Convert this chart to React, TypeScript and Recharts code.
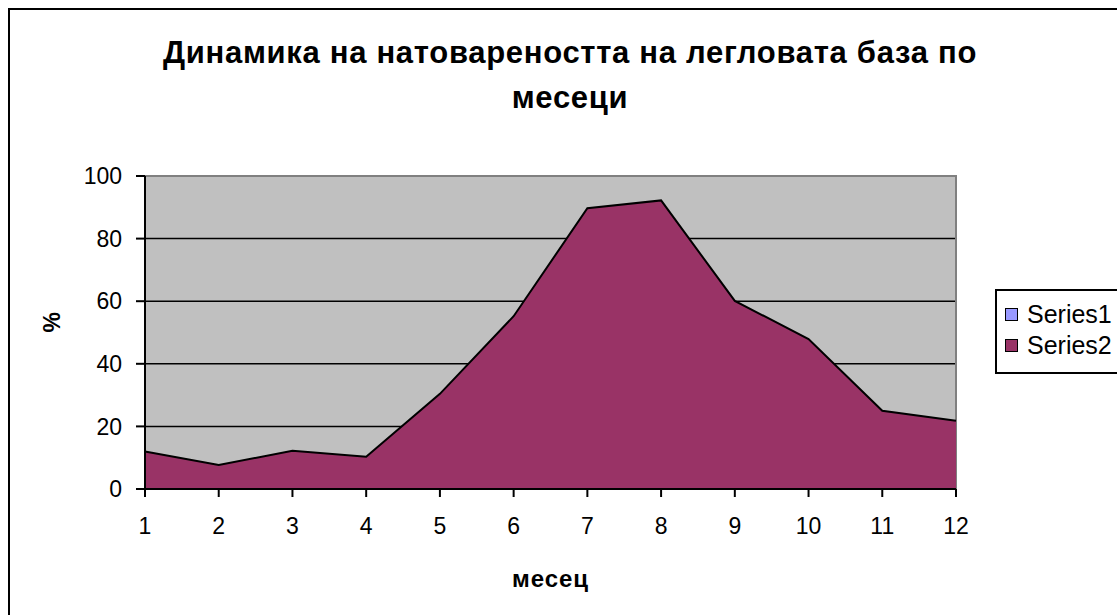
import { AreaChart, Area, XAxis, YAxis, CartesianGrid, Legend, ReferenceArea } from "recharts";

const FONT = "Arial, 'Liberation Sans', sans-serif";

// месеци
const months = [1, 2, 3, 4, 5, 6, 7, 8, 9, 10, 11, 12];
// Series1 (номер на месеца, скрит зад Series2)
const series1 = [1, 2, 3, 4, 5, 6, 7, 8, 9, 10, 11, 12];
// Series2 – натовареност, %
const series2 = [12, 7.7, 12.2, 10.3, 30.4, 55.2, 89.7, 92.2, 60.1, 47.9, 25, 21.8];
const yTicks = [0, 20, 40, 60, 80, 100];
const gridLines = [20, 40, 60, 80];

const SERIES = [
  { key: "Series1", color: "#9999FF" },
  { key: "Series2", color: "#993366" },
];

const data = months.map((m, i) => ({ month: m, Series1: series1[i], Series2: series2[i] }));

const renderLegend = () => (
  <div
    style={{
      border: "2px solid #000",
      background: "#fff",
      width: 160,
      height: 85,
      boxSizing: "border-box",
      padding: "8px 0 0 8px",
      fontFamily: FONT,
      fontSize: 25,
      color: "#000",
    }}
  >
    {SERIES.map((s) => (
      <div key={s.key} style={{ display: "flex", alignItems: "center", height: 31 }}>
        <span
          style={{
            width: 11,
            height: 11,
            border: "1.5px solid #000",
            background: s.color,
            marginRight: 9,
            flexShrink: 0,
          }}
        />
        <span>{s.key}</span>
      </div>
    ))}
  </div>
);

export default function App() {
  return (
    <div style={{ position: "absolute", left: 0, top: 0, width: 1117, height: 615, overflow: "hidden", background: "#fff" }}>
      {/* рамка на диаграмата */}
      <div
        style={{
          position: "absolute",
          left: 8,
          top: 8,
          width: 1200,
          height: 700,
          border: "2px solid #000",
        }}
      />
      {/* заглавие */}
      <div
        style={{
          position: "absolute",
          left: 8,
          top: 30,
          width: 1124,
          textAlign: "center",
          fontFamily: FONT,
          fontWeight: "bold",
          fontSize: 31,
          letterSpacing: 0.7,
          lineHeight: "45px",
          color: "#000",
        }}
      >
        Динамика на натовареността на легловата база по
        <br />
        месеци
      </div>
      <div style={{ position: "absolute", left: 0, top: 0 }}>
        <AreaChart
          width={1117}
          height={615}
          data={data}
          margin={{ top: 176, right: 1, bottom: 0, left: 0 }}
        >
          <CartesianGrid
            vertical={false}
            horizontalValues={gridLines}
            stroke="#000"
            strokeWidth={1.5}
            fill="#C0C0C0"
            fillOpacity={1}
          />
          <ReferenceArea x1={1} x2={12} y1={0} y2={100} fill="none" stroke="#808080" strokeWidth={2} />
          {SERIES.map((s) => (
            <Area
              key={s.key}
              type="linear"
              dataKey={s.key}
              fill={s.color}
              fillOpacity={1}
              stroke="#000"
              strokeWidth={2}
              dot={false}
              activeDot={false}
              isAnimationActive={false}
            />
          ))}
          <XAxis
            dataKey="month"
            type="number"
            domain={[1, 12]}
            ticks={months}
            height={126}
            axisLine={{ stroke: "#000", strokeWidth: 2 }}
            tickLine={{ stroke: "#000", strokeWidth: 2 }}
            tickSize={8}
            tickMargin={21}
            tick={{ fill: "#000", fontSize: 23, fontFamily: FONT }}
            label={{
              value: "месец",
              position: "insideBottom",
              offset: 28,
              style: { fill: "#000", fontSize: 24, letterSpacing: 1, fontWeight: "bold", fontFamily: FONT },
            }}
          />
          <YAxis
            type="number"
            domain={[0, 100]}
            ticks={yTicks}
            width={145}
            axisLine={{ stroke: "#000", strokeWidth: 2 }}
            tickLine={{ stroke: "#000", strokeWidth: 2 }}
            tickSize={9}
            tickMargin={14}
            tick={{ fill: "#000", fontSize: 23, fontFamily: FONT }}
            label={{
              value: "%",
              angle: -90,
              position: "insideLeft",
              offset: 52,
              style: { fill: "#000", fontSize: 23, fontWeight: "bold", fontFamily: FONT },
            }}
          />
          <Legend
            layout="horizontal"
            verticalAlign="middle"
            align="right"
            content={renderLegend}
            wrapperStyle={{ left: 995, top: 289, width: 160 }}
          />
        </AreaChart>
      </div>
    </div>
  );
}
